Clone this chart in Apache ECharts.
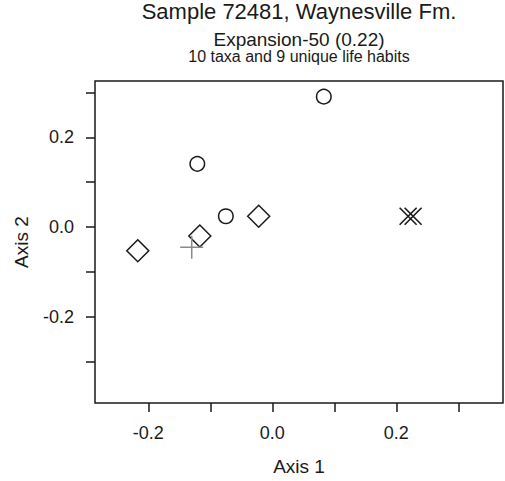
<!DOCTYPE html>
<html>
<head>
<meta charset="utf-8">
<script src="https://cdn.jsdelivr.net/npm/echarts@6/dist/echarts.min.js"></script>
<style>html,body{margin:0;padding:0;background:#fff}#c{width:505px;height:481px}</style>
</head>
<body>
<div id="c"></div>
<script>
const titleLines = ["Sample 72481, Waynesville Fm.", "Expansion-50 (0.22)", "10 taxa and 9 unique life habits"];
const axis1Name = "Axis 1";
const axis2Name = "Axis 2";
const axis1Range = [-0.286, 0.372];
const axis2Range = [-0.393, 0.326];
const axis1Ticks = [-0.2, -0.1, 0.0, 0.1, 0.2, 0.3];
const axis1Labels = [-0.2, 0.0, 0.2];
const axis2Ticks = [-0.3, -0.2, -0.1, 0.0, 0.1, 0.2, 0.3];
const axis2Labels = [-0.2, 0.0, 0.2];
const circlePoints = [[0.083, 0.291], [-0.121, 0.141], [-0.075, 0.024]];
const diamondPoints = [[-0.022, 0.024], [-0.117, -0.020], [-0.217, -0.053]];
const plusPoints = [[-0.130, -0.045]];
const crossPoints = [[0.219, 0.024], [0.227, 0.024]];

const FONT = "'Liberation Sans', Arial, Helvetica, sans-serif";
const INK = '#1a1a1a';
const chart = echarts.init(document.getElementById('c'), null, {renderer: 'svg'});
const plotCenterX = 299;
chart.setOption({
  animation: false,
  backgroundColor: '#fff',
  grid: {left: 95, top: 81, right: 2, bottom: 72, show: true, borderColor: INK, borderWidth: 1.5, backgroundColor: 'transparent'},
  graphic: [
    {type: 'text', x: plotCenterX, y: 11, style: {text: titleLines[0], font: '22px ' + FONT, fill: INK, textAlign: 'center', textVerticalAlign: 'middle'}},
    {type: 'text', x: plotCenterX, y: 39, style: {text: titleLines[1], font: '19px ' + FONT, fill: INK, textAlign: 'center', textVerticalAlign: 'middle'}},
    {type: 'text', x: plotCenterX, y: 56, style: {text: titleLines[2], font: '16px ' + FONT, fill: INK, textAlign: 'center', textVerticalAlign: 'middle'}}
  ],
  xAxis: {
    type: 'value', min: axis1Range[0], max: axis1Range[1], position: 'bottom',
    name: axis1Name, nameLocation: 'middle', nameGap: 54,
    nameTextStyle: {fontFamily: FONT, fontSize: 19, color: INK},
    axisLine: {show: false, onZero: false},
    splitLine: {show: false},
    axisTick: {show: true, inside: false, length: 9, customValues: axis1Ticks, lineStyle: {color: INK, width: 1.5}},
    axisLabel: {show: true, margin: 21, customValues: axis1Labels, fontFamily: FONT, fontSize: 18, color: INK, formatter: v => v.toFixed(1)}
  },
  yAxis: {
    type: 'value', min: axis2Range[0], max: axis2Range[1], position: 'left',
    name: axis2Name, nameLocation: 'middle', nameGap: 64,
    nameTextStyle: {fontFamily: FONT, fontSize: 19, color: INK},
    axisLine: {show: false, onZero: false},
    splitLine: {show: false},
    axisTick: {show: true, inside: false, length: 9, customValues: axis2Ticks, lineStyle: {color: INK, width: 1.5}},
    axisLabel: {show: true, margin: 21, customValues: axis2Labels, fontFamily: FONT, fontSize: 18, color: INK, formatter: v => v.toFixed(1)}
  },
  series: [
    {type: 'scatter', data: circlePoints, symbol: 'circle', symbolSize: 14.5,
     itemStyle: {color: 'rgba(0,0,0,0)', borderColor: INK, borderWidth: 1.5, opacity: 1}},
    {type: 'scatter', data: diamondPoints, symbol: 'diamond', symbolSize: 22,
     itemStyle: {color: 'rgba(0,0,0,0)', borderColor: INK, borderWidth: 1.5, opacity: 1}},
    {type: 'scatter', data: plusPoints, symbol: 'path://M10,0L10,20M0,10L20,10', symbolSize: 23,
     itemStyle: {color: 'rgba(0,0,0,0)', borderColor: '#8a8a8a', borderWidth: 1.5, opacity: 1}},
    {type: 'scatter', data: crossPoints, symbol: 'path://M0,0L20,20M0,20L20,0', symbolSize: 17,
     itemStyle: {color: 'rgba(0,0,0,0)', borderColor: INK, borderWidth: 1.6, opacity: 1}}
  ]
});
</script>
</body>
</html>
